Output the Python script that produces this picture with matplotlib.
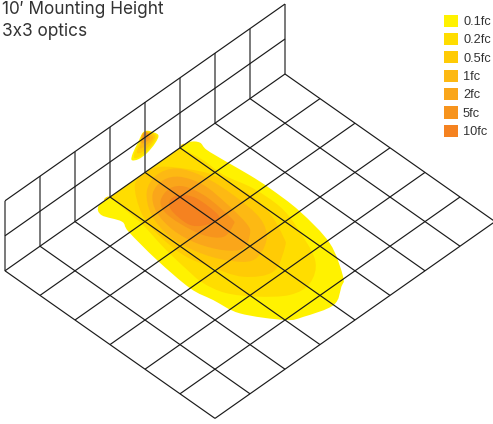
import matplotlib
matplotlib.use("Agg")
import matplotlib.pyplot as plt
from matplotlib.patches import PathPatch, Patch
from matplotlib.path import Path
from matplotlib.transforms import Affine2D
import numpy as np

TITLE = ["10\u2032 Mounting Height", "3x3 optics"]
LEVELS = ["0.1fc", "0.2fc", "0.5fc", "1fc", "2fc", "5fc", "10fc"]
COLORS = ["#FFF200", "#FFDD00", "#FFCB05", "#FDB913", "#FAA61A", "#F7941D", "#F58220"]
FLOOR_U = 8
FLOOR_V = 6
WALL_H = 2

# Isolines on the floor, in grid cells (u along the wall, v away from it)
floor_01 = [(5.35, .02), (5, 0), (5, 0), (3, 0), (3, 0), (2.74, .02), (2.61, .18), (2.66, .42), (2.62, .95),
            (2.56, 1.56), (2.54, 2.11), (2.58, 3.0), (2.8, 4.08), (3.29, 4.95), (3.52, 5.13), (4.0, 5.39),
            (4.67, 5.2), (5.0, 5.0), (5.51, 4.22), (5.62, 3.57), (5.71, 3.0), (5.61, 1.95),
            (5.44, .97), (5.33, .67), (5.49, .25)]
floor_02 = [(5, 0), (5, 0), (3, 0), (3, 0), (2.92, .58), (2.93, 1.17), (2.78, 1.87), (2.77, 2.63), (2.94, 3.27),
            (3.35, 4.21), (3.9, 4.61), (4.42, 4.56), (4.93, 4.12), (5.3, 3.6), (5.42, 3.07), (5.38, 2.6),
            (5.27, 1.85), (5.1, 1.05), (5.06, .68)]
floor_05 = [(4.4, .11), (3.98, .02), (3.65, .12), (3.3, .58), (3.07, 1.07), (2.96, 1.96), (3.05, 2.62), (3.33, 3.28),
            (3.51, 3.51), (4.18, 3.85), (4.72, 3.52), (4.98, 2.85), (5.13, 2.23), (5.07, 1.4), (4.88, .78)]
floor_1 = [(4.37, .42), (3.89, .22), (3.47, .37), (3.25, .92), (3.2, 1.72), (3.29, 2.58), (3.64, 3.11),
           (4.23, 3.33), (4.62, 2.95), (4.87, 2.35), (4.95, 1.66), (4.77, .96)]
floor_2 = [(4.32, .54), (3.9, .42), (3.59, .59), (3.42, 1.09), (3.47, 1.8), (3.59, 2.49), (3.74, 2.74),
           (4.14, 2.95), (4.46, 2.7), (4.7, 2.18), (4.77, 1.58), (4.64, .97)]
floor_5 = [(4.34, .79), (3.97, .68), (3.72, .86), (3.62, 1.38), (3.7, 2.18), (3.81, 2.33), (4.19, 2.43),
           (4.44, 2.11), (4.54, 1.54), (4.52, 1.08)]
floor_10 = [(4.2, .92), (3.96, .96), (3.79, 1.27), (3.82, 1.91), (4.0, 2.0), (4.31, 1.87), (4.44, 1.63), (4.39, 1.14)]
FLOOR_CONTOURS = [floor_01, floor_02, floor_05, floor_1, floor_2, floor_5, floor_10]

# Isolines on the wall, in grid cells (u along the wall, h upward)
wall_01 = [(4, 1.18), (3.86, 1.08), (3.62, .8), (3.71, .63), (3.95, .51), (4.19, .51), (4.38, .62), (4.35, .79),
           (4.19, 1.01), (4.09, 1.16)]
wall_02 = [(4, 1.17), (3.86, 1.06), (3.66, .8), (3.77, .65), (3.97, .56), (4.17, .56), (4.31, .63), (4.29, .79),
           (4.14, .99), (4.09, 1.13)]
wall_05 = [(4, 1.15), (3.83, 1.01), (3.71, .81), (3.83, .69), (4, .64), (4.14, .65), (4.23, .74), (4.14, .94)]
wall_1 = [(4, 1.15), (3.86, 1.0), (3.77, .82), (3.89, .76), (4.03, .75), (4.14, .79), (4.11, .97), (4.09, 1.13)]
wall_2 = [(4, 1.15), (3.89, 1.02), (3.86, .86), (3.97, .85), (4.09, .9), (4.09, 1.07)]
wall_5 = [(4, 1.15), (3.91, 1.03), (3.91, .92), (4, .93), (4.06, 1.0), (4.06, 1.11)]
WALL_CONTOURS = [wall_01, wall_02, wall_05, wall_1, wall_2, wall_5]


def smooth_closed(points):
    p = np.asarray(points, float)
    n = len(p)
    verts = [p[0]]
    codes = [Path.MOVETO]
    for i in range(n):
        p0, p1, p2, p3 = p[i - 1], p[i], p[(i + 1) % n], p[(i + 2) % n]
        verts += [p1 + (p2 - p0) / 6, p2 - (p3 - p1) / 6, p2]
        codes += [Path.CURVE4] * 3
    return Path(verts, codes)


fig = plt.figure(figsize=(4.93, 4.24), dpi=100)
ax = fig.add_axes([0, 0, 1, 1])
ax.set_xlim(0, 493)
ax.set_ylim(424, 0)
ax.axis("off")

floor_tf = Affine2D.from_values(-35, 24.6, 35, 24.6, 285, 74) + ax.transData
wall_tf = Affine2D.from_values(-35, 24.6, 0, -35, 285, 74) + ax.transData

for pts, col in zip(FLOOR_CONTOURS, COLORS):
    ax.add_patch(PathPatch(smooth_closed(pts), fc=col, ec="none", transform=floor_tf, zorder=1))
for pts, col in zip(WALL_CONTOURS, COLORS):
    ax.add_patch(PathPatch(smooth_closed(pts), fc=col, ec="none", transform=wall_tf, zorder=2))

line = dict(color="#1a1a1a", lw=0.85, solid_capstyle="butt", zorder=4)
for u in range(FLOOR_U + 1):
    ax.plot([u, u], [0, FLOOR_V], transform=floor_tf, **line)
for v in range(FLOOR_V + 1):
    ax.plot([0, FLOOR_U], [v, v], transform=floor_tf, **line)
for u in range(FLOOR_U + 1):
    ax.plot([u, u], [0, WALL_H], transform=wall_tf, color="#555555", lw=1.1, solid_capstyle="butt", zorder=3)
for h in range(1, WALL_H + 1):
    ax.plot([0, FLOOR_U], [h, h], transform=wall_tf, **line)

for i, t in enumerate(TITLE):
    ax.text(2, 9 + i * 22, t, family=["Inter", "DejaVu Sans"], fontsize=12.4, color="#333333", va="center", ha="left")

fs = 9.2
px = fs * 100 / 72
handles = [Patch(fc=c, ec="none", label=l) for c, l in zip(COLORS, LEVELS)]
ax.legend(handles=handles, loc="upper left", bbox_to_anchor=(444 / 493, 1 - 14.5 / 424), borderaxespad=0, borderpad=0,
          frameon=False, prop={"family": "Liberation Sans", "size": fs}, handlelength=14 / px, handleheight=14 / px,
          handletextpad=5 / px, labelspacing=(18.9 - 14) / px, labelcolor="#333333")

fig.savefig("out.png", dpi=100)
